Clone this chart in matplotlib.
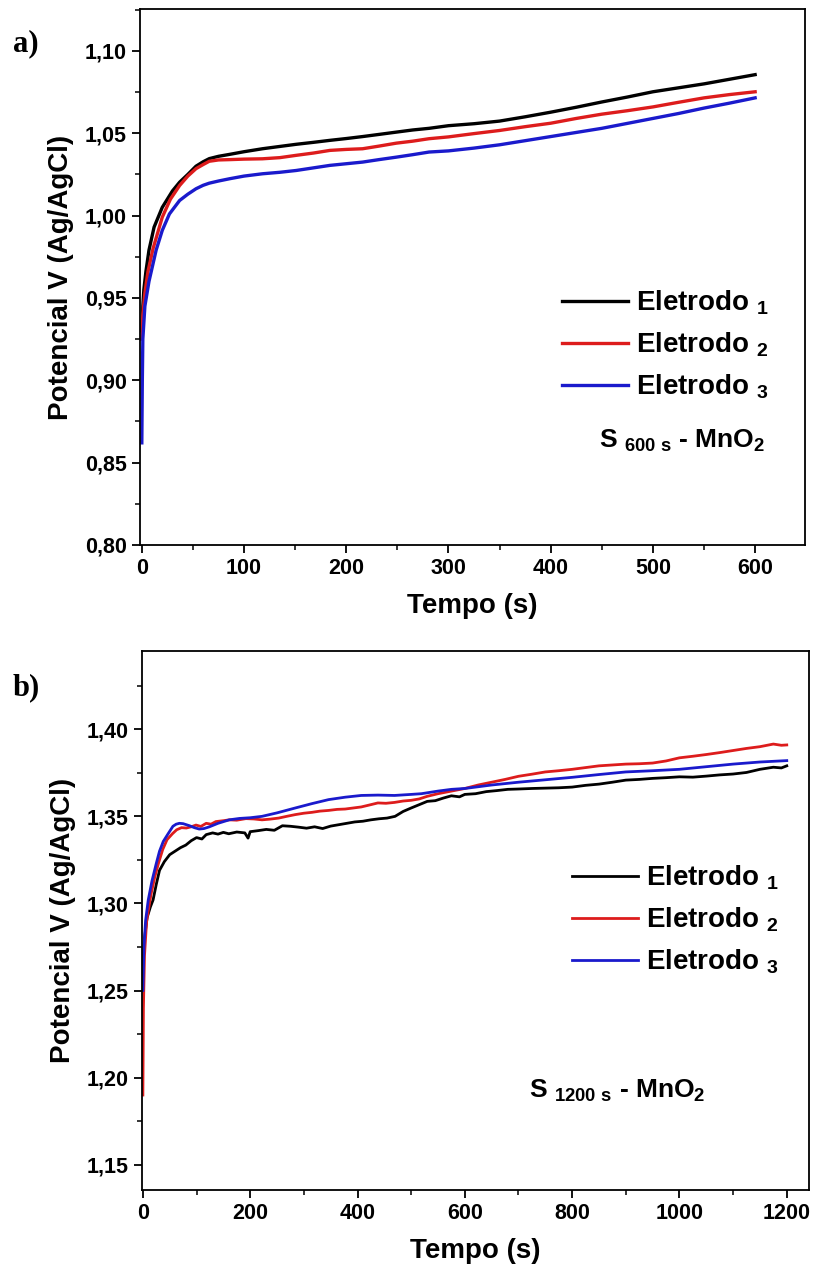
"""Chronopotentiometry curves for the three MnO2 electrodes (600 s and 1200 s)."""

import matplotlib
matplotlib.use("Agg")

import matplotlib.pyplot as plt
from matplotlib.ticker import MultipleLocator, FuncFormatter

plt.rcParams["font.family"] = ["Liberation Sans", "DejaVu Sans"]
plt.rcParams["font.weight"] = "bold"
plt.rcParams["mathtext.fontset"] = "custom"
plt.rcParams["mathtext.rm"] = "Liberation Sans:bold"
plt.rcParams["mathtext.it"] = "Liberation Sans:bold"
plt.rcParams["mathtext.bf"] = "Liberation Sans:bold"

# ── Panel a: S 600 s ─────────────────────────────────────────────
t_a1 = [0, 1, 2, 4, 7, 12, 20, 30, 37, 45, 53, 60, 66, 75, 86, 100, 118, 135, 151, 168,
        184, 200, 216, 232, 249, 265, 281, 300, 325, 350, 375, 400, 425, 450, 475, 500,
        525, 550, 575, 600]
v_a1 = [0.930, 0.945, 0.955, 0.966, 0.979, 0.993, 1.005, 1.015, 1.0203, 1.025, 1.030,
        1.0327, 1.0346, 1.036, 1.0372, 1.0388, 1.0406, 1.042, 1.0433, 1.0445, 1.0457,
        1.0468, 1.048, 1.0493, 1.0507, 1.052, 1.053, 1.0546, 1.0558, 1.0574, 1.060,
        1.0628, 1.0658, 1.069, 1.072, 1.0752, 1.0776, 1.080, 1.0828, 1.0856]

t_a2 = [0, 1, 3, 6, 11, 20, 28, 37, 45, 53, 60, 66, 75, 86, 100, 118, 135, 151, 168, 184,
        200, 216, 232, 249, 265, 281, 300, 325, 350, 375, 400, 425, 450, 475, 500, 525,
        550, 575, 600]
v_a2 = [0.925, 0.940, 0.953, 0.966, 0.980, 0.999, 1.010, 1.0183, 1.024, 1.0285, 1.031,
        1.033, 1.0338, 1.034, 1.0343, 1.0345, 1.0352, 1.0366, 1.038, 1.0396, 1.0402,
        1.0406, 1.0422, 1.044, 1.0452, 1.0467, 1.0478, 1.0498, 1.0517, 1.054, 1.0561,
        1.059, 1.0616, 1.0637, 1.066, 1.0688, 1.0715, 1.0735, 1.0752]

t_a3 = [0, 0.5, 1, 3, 7, 14, 20, 27, 37, 45, 53, 60, 66, 75, 86, 100, 118, 135, 151, 168,
        184, 200, 216, 232, 249, 265, 281, 300, 325, 350, 375, 400, 425, 450, 475, 500,
        525, 550, 575, 600]
v_a3 = [0.862, 0.900, 0.925, 0.945, 0.960, 0.979, 0.991, 1.001, 1.0092, 1.013, 1.0163,
        1.0184, 1.0197, 1.021, 1.0224, 1.024, 1.0254, 1.0263, 1.0274, 1.029, 1.0305,
        1.0315, 1.0325, 1.034, 1.0355, 1.037, 1.0386, 1.0393, 1.041, 1.043, 1.0455,
        1.048, 1.0505, 1.053, 1.056, 1.059, 1.062, 1.0653, 1.0683, 1.0715]

# ── Panel b: S 1200 s ────────────────────────────────────────────
t_b1 = [0, 3, 8, 14, 19, 25, 31, 40, 50, 60, 70, 80, 90, 100, 110, 118, 130, 140, 150,
        160, 175, 190, 196, 200, 215, 230, 245, 260, 275, 290, 305, 320, 335, 350, 365,
        380, 395, 410, 425, 440, 455, 470, 485, 500, 515, 530, 545, 560, 575, 590, 600,
        620, 640, 660, 680, 700, 725, 750, 775, 800, 825, 850, 875, 900, 925, 950, 975,
        1000, 1025, 1050, 1075, 1100, 1125, 1150, 1175, 1190, 1200]
v_b1 = [1.265, 1.280, 1.292, 1.298, 1.302, 1.311, 1.319, 1.324, 1.328, 1.330, 1.332,
        1.3335, 1.336, 1.3378, 1.3370, 1.3395, 1.3405, 1.3398, 1.3408, 1.3400, 1.3410,
        1.3405, 1.3375, 1.3412, 1.3418, 1.3425, 1.3420, 1.3446, 1.3443, 1.3438, 1.3432,
        1.3440, 1.3430, 1.3444, 1.3452, 1.3460, 1.3468, 1.3472, 1.3480, 1.3486, 1.3490,
        1.3500, 1.3528, 1.3548, 1.3567, 1.3586, 1.3590, 1.3605, 1.3618, 1.3612, 1.3626,
        1.3630, 1.3642, 1.3648, 1.3655, 1.3657, 1.3660, 1.3662, 1.3664, 1.3668, 1.3678,
        1.3685, 1.3696, 1.3708, 1.3712, 1.3718, 1.3722, 1.3727, 1.3725, 1.3731, 1.3738,
        1.3743, 1.3752, 1.3770, 1.3782, 1.3778, 1.3790]

t_b2 = [0, 1, 3, 7, 15, 22, 29, 37, 45, 55, 63, 72, 81, 90, 99, 108, 118, 127, 136, 150,
        161, 175, 192, 207, 222, 237, 253, 268, 284, 300, 315, 330, 346, 362, 377, 392,
        407, 422, 438, 453, 469, 485, 500, 515, 530, 550, 575, 600, 625, 650, 675, 700,
        725, 750, 775, 800, 825, 850, 875, 900, 925, 950, 975, 1000, 1025, 1050, 1075,
        1100, 1125, 1150, 1175, 1190, 1200]
v_b2 = [1.190, 1.240, 1.270, 1.290, 1.305, 1.315, 1.323, 1.331, 1.3366, 1.340, 1.3423,
        1.3435, 1.3433, 1.3440, 1.3450, 1.3442, 1.3460, 1.3455, 1.3470, 1.3475, 1.3480,
        1.3478, 1.3487, 1.3485, 1.3480, 1.3484, 1.3490, 1.3500, 1.3510, 1.3518, 1.3523,
        1.3530, 1.3534, 1.3540, 1.3542, 1.3548, 1.3554, 1.3565, 1.3577, 1.3575, 1.3580,
        1.3588, 1.3592, 1.3600, 1.3615, 1.3630, 1.3645, 1.3660, 1.3680, 1.3696, 1.3712,
        1.3730, 1.3742, 1.3755, 1.3762, 1.3770, 1.3780, 1.3790, 1.3795, 1.3800, 1.3802,
        1.3806, 1.3818, 1.3836, 1.3845, 1.3855, 1.3866, 1.3878, 1.3890, 1.3900, 1.3915,
        1.3908, 1.3910]

t_b3 = [0, 2, 5, 10, 17, 25, 31, 38, 47, 56, 62, 68, 75, 87, 96, 105, 114, 124, 140, 161,
        180, 200, 222, 250, 284, 315, 346, 377, 407, 438, 469, 500, 519, 550, 575, 600,
        650, 700, 750, 800, 850, 900, 950, 1000, 1050, 1100, 1150, 1200]
v_b3 = [1.250, 1.275, 1.290, 1.302, 1.313, 1.323, 1.330, 1.3356, 1.340, 1.3443, 1.3455,
        1.3460, 1.3458, 1.3446, 1.3435, 1.3427, 1.3430, 1.3440, 1.3460, 1.3480, 1.3488,
        1.3492, 1.3500, 1.3520, 1.3548, 1.3573, 1.3596, 1.3610, 1.3620, 1.3622, 1.3620,
        1.3626, 1.3630, 1.3645, 1.3655, 1.3660, 1.3680, 1.3696, 1.3710, 1.3724, 1.3740,
        1.3755, 1.3762, 1.3770, 1.3785, 1.3800, 1.3812, 1.3820]

labels = [r"Eletrodo $_{1}$", r"Eletrodo $_{2}$", r"Eletrodo $_{3}$"]
colors = ["#000000", "#dd1c1c", "#1a1acc"]

comma = FuncFormatter(lambda v, _: f"{v:.2f}".replace(".", ","))


def _style_axes(ax, xmajor, xminor, ymajor, yminor):
    ax.xaxis.set_major_locator(MultipleLocator(xmajor))
    ax.xaxis.set_minor_locator(MultipleLocator(xminor))
    ax.yaxis.set_major_locator(MultipleLocator(ymajor))
    ax.yaxis.set_minor_locator(MultipleLocator(yminor))
    ax.yaxis.set_major_formatter(comma)
    ax.tick_params(which="major", direction="out", length=6, width=1.3, labelsize=15.5)
    ax.tick_params(which="minor", direction="out", length=3.5, width=1.1)
    for sp in ax.spines.values():
        sp.set_linewidth(1.3)
    for lab in ax.get_xticklabels() + ax.get_yticklabels():
        lab.set_fontweight("bold")
    ax.set_xlabel("Tempo (s)", fontsize=20, fontweight="bold", labelpad=10)
    ax.set_ylabel("Potencial V (Ag/AgCl)", fontsize=20, fontweight="bold", labelpad=8)


fig = plt.figure(figsize=(8.15, 12.78), dpi=100)

# ── Panel a ──────────────────────────────────────────────────────
ax1 = fig.add_axes([0.172, 0.5736, 0.816, 0.4194])
for t, v, lab, c in zip([t_a1, t_a2, t_a3], [v_a1, v_a2, v_a3], labels, colors):
    ax1.plot(t, v, color=c, lw=2.4, label=lab)
ax1.set_xlim(-1.6, 649)
ax1.set_ylim(0.80, 1.1255)
_style_axes(ax1, 100, 50, 0.05, 0.025)
ax1.legend(loc="center left", bbox_to_anchor=(0.635, 0.373), frameon=False, fontsize=20,
           handlelength=2.35, handletextpad=0.3, labelspacing=0.48, borderpad=0,
           borderaxespad=0)
ax1.text(0.69, 0.194, r"S $_{600\ s}$ - MnO$_{2}$", transform=ax1.transAxes,
         fontsize=19, fontweight="bold", va="center")

# ── Panel b ──────────────────────────────────────────────────────
ax2 = fig.add_axes([0.174, 0.0689, 0.819, 0.4218])
for t, v, lab, c in zip([t_b1, t_b2, t_b3], [v_b1, v_b2, v_b3], labels, colors):
    ax2.plot(t, v, color=c, lw=2.0, label=lab)
ax2.set_xlim(-2, 1242)
ax2.set_ylim(1.1355, 1.445)
_style_axes(ax2, 200, 100, 0.05, 0.025)
ax2.legend(loc="center left", bbox_to_anchor=(0.645, 0.501), frameon=False, fontsize=20,
           handlelength=2.35, handletextpad=0.3, labelspacing=0.48, borderpad=0,
           borderaxespad=0)
ax2.text(0.58, 0.184, r"S $_{1200\ s}$ - MnO$_{2}$", transform=ax2.transAxes,
         fontsize=19, fontweight="bold", va="center")

# panel letters
fig.text(0.016, 0.966, "a)", fontsize=22, fontweight="bold",
         family=["Liberation Serif", "DejaVu Serif"], va="center")
fig.text(0.016, 0.462, "b)", fontsize=22, fontweight="bold",
         family=["Liberation Serif", "DejaVu Serif"], va="center")

fig.savefig("out.png", dpi=100)
